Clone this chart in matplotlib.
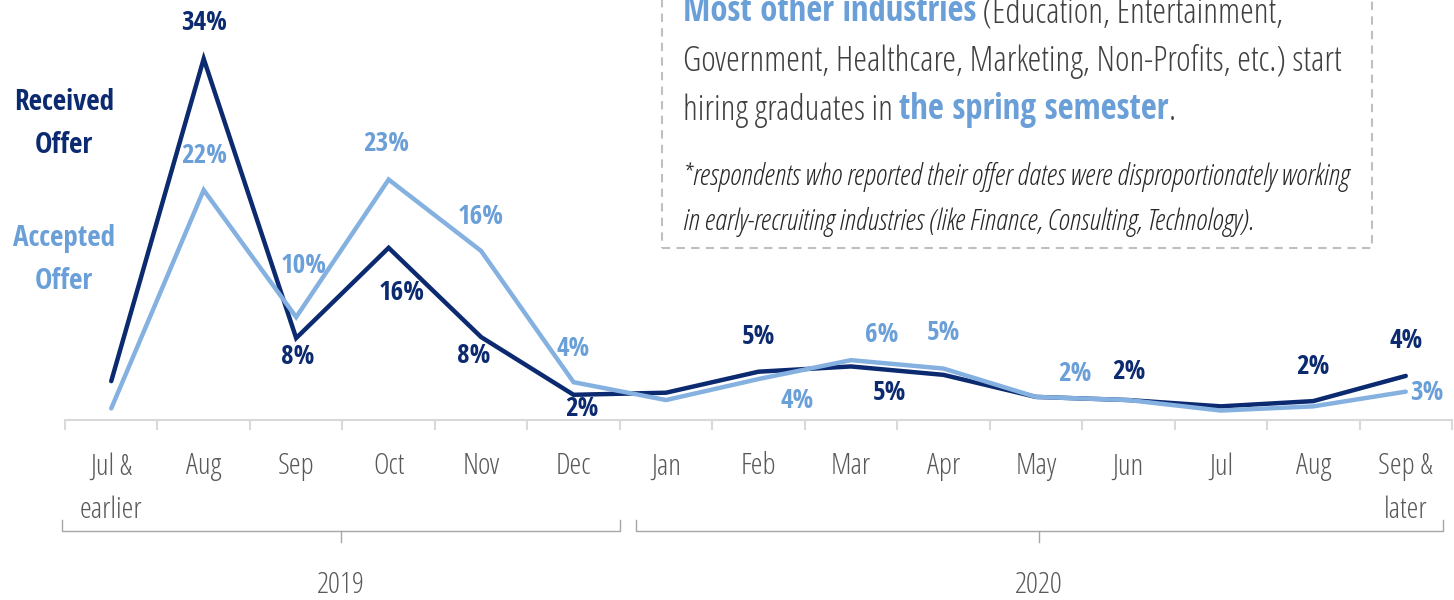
import matplotlib
matplotlib.use('Agg')
import matplotlib.pyplot as plt
from matplotlib import font_manager as fm
from matplotlib.patches import Rectangle
from matplotlib.lines import Line2D

# Dados (percentuais)
categories = ['Jul &\nearlier', 'Aug', 'Sep', 'Oct', 'Nov', 'Dec', 'Jan', 'Feb',
              'Mar', 'Apr', 'May', 'Jun', 'Jul', 'Aug', 'Sep &\nlater']
received = [3.7, 34.4, 7.8, 16.4, 7.9, 2.4, 2.6, 4.6, 5.1, 4.3, 2.2, 1.9, 1.3, 1.8, 4.2]
accepted = [1.1, 21.9, 9.8, 22.9, 16.1, 3.6, 1.9, 3.9, 5.7, 4.9, 2.2, 1.9, 0.9, 1.3, 2.7]
years = ['2019', '2020']
year_groups = [(0, 5), (6, 14)]

# posicao dos rotulos (dx, dy em pixels), None = sem rotulo
rec_lbl = [None, (0, 36), (2, -18), (13, -45), (-7, -18), (8, -14), None, (0, 35),
           (38, -26), None, None, (0, 29), None, (0, 35), (0, 35)]
acc_lbl = [None, (0, 35), (8, 52), (-2, 36), (0, 34), (0, 34), None, (39, -21),
           (31, 26), (0, 36), (39, 23), None, None, None, (21, -1)]

NAVY = '#0B2A6F'
LIGHT = '#85B1E1'
LIGHT_TXT = '#6A9FD8'
GRAY = '#595959'


# procurar arquivos de fonte estreita (condensed)
def achar_fonte(bold, italic):
    for cand in ['Open Sans', 'Open Sans Condensed', 'Noto Sans', 'Roboto Condensed',
                 'Roboto', 'DejaVu Sans', 'Liberation Sans Narrow']:
        for f in fm.fontManager.ttflist:
            w = f.weight if isinstance(f.weight, int) else fm.weight_dict.get(f.weight, 400)
            narrow = 'condensed' in str(f.stretch) or 'Narrow' in f.name or 'Condensed' in f.name
            if f.name == cand and narrow and (w >= 600) == bold and (f.style != 'normal') == italic:
                return f.fname
    return None


f_light = achar_fonte(False, False)
f_ital = achar_fonte(False, True)
f_bold = achar_fonte(True, False)
fp_light = fm.FontProperties(fname=f_light) if f_light else fm.FontProperties(family='DejaVu Sans')
fp_ital = fm.FontProperties(fname=f_ital) if f_ital else fm.FontProperties(family='DejaVu Sans', style='italic')
fp_bold = fm.FontProperties(fname=f_bold) if f_bold else fm.FontProperties(family='Open Sans', weight='bold')


def fp(base, size):
    p = base.copy()
    p.set_size(size)
    return p


W, H = 1454, 600
fig = plt.figure(figsize=(W / 100, H / 100), dpi=100)
ax = fig.add_axes([65 / W, 1 - 420 / H, (1452 - 65) / W, 420 / H])

x = list(range(len(categories)))
ax.plot(x, accepted, color=LIGHT, lw=3.2, solid_capstyle='round', solid_joinstyle='miter', clip_on=False, zorder=3)
ax.plot(x, received, color=NAVY, lw=3.2, solid_capstyle='round', solid_joinstyle='miter', clip_on=False, zorder=2)

for vals, offs, col in [(received, rec_lbl, NAVY), (accepted, acc_lbl, LIGHT_TXT)]:
    for i, v in enumerate(vals):
        if offs[i] is None:
            continue
        ax.annotate(f'{v:.0f}%', (i, v), xytext=offs[i], textcoords='offset pixels',
                    ha='center', va='center', fontproperties=fp(fp_bold, 19.5), color=col,
                    annotation_clip=False)

ax.set_xlim(-0.5, len(categories) - 0.5)
ax.set_ylim(0, 40)
for s in ['top', 'left', 'right']:
    ax.spines[s].set_visible(False)
ax.spines['bottom'].set_color('#D9D9D9')
ax.spines['bottom'].set_linewidth(1.5)
ax.set_yticks([])
ax.set_xticks(x)
ax.set_xticklabels(categories, color=GRAY, fontproperties=fp(fp_light, 21.5), linespacing=1.62)
ax.set_xticks([i - 0.5 for i in range(len(categories) + 1)], minor=True)
ax.tick_params(axis='x', which='major', length=0, pad=23)
ax.tick_params(axis='x', which='minor', length=7.2, width=1.5, color='#D9D9D9')

# rotulos das series
fig.text(64 / W, 1 - 124 / H, 'Received\nOffer', ha='center', va='center',
         fontproperties=fp(fp_bold, 21), color=NAVY, linespacing=1.62)
fig.text(64 / W, 1 - 260 / H, 'Accepted\nOffer', ha='center', va='center',
         fontproperties=fp(fp_bold, 21), color=LIGHT_TXT, linespacing=1.62)

# chaves dos anos
bt = matplotlib.transforms.blended_transform_factory(ax.transData, fig.transFigure)
for yr, (i0, i1) in zip(years, year_groups):
    x0, x1 = i0 - 0.53 + (0.2 if i0 else 0), i1 + 0.5 - (0.1 if i0 else 0)
    xc = (x0 + x1) / 2
    y_top, y_mid, y_bot = 1 - 520 / H, 1 - 531 / H, 1 - 542 / H
    fig.add_artist(Line2D([x0, x0, x1, x1], [y_top, y_mid, y_mid, y_top], transform=bt,
                          color='#A6A6A6', lw=1))
    fig.add_artist(Line2D([xc, xc], [y_mid, y_bot], transform=bt, color='#A6A6A6', lw=1))
    fig.text(xc, 1 - 585 / H, yr, transform=bt, ha='center', va='center',
             fontproperties=fp(fp_light, 21.5), color=GRAY)

# caixa de texto
fig.add_artist(Rectangle((662 / W, 1 - 248 / H), (1372 - 662) / W, 260 / H,
                         transform=fig.transFigure, fill=False, ec='#BFBFBF', lw=1.5,
                         ls=(0, (4, 3)), clip_on=False))

box_lines = [
    (21, [('Most other industries', LIGHT_TXT, fp_bold), (' (Education, Entertainment,', '#404040', fp_light)]),
    (71, [('Government, Healthcare, Marketing, Non-Profits, etc.) start', '#404040', fp_light)]),
    (120, [('hiring graduates in ', '#404040', fp_light), ('the spring semester', LIGHT_TXT, fp_bold),
           ('.', '#404040', fp_light)]),
]
for yy, parts in box_lines:
    prev = None
    for txt, col, base in parts:
        if prev is None:
            prev = fig.text(683 / W, 1 - yy / H, txt, ha='left', va='baseline',
                            fontproperties=fp(base, 25), color=col)
        else:
            prev = ax.annotate(txt, xy=(1, 0), xycoords=prev, ha='left', va='bottom',
                               fontproperties=fp(base, 25), color=col, annotation_clip=False)

fig.text(683 / W, 1 - 185 / H, '*respondents who reported their offer dates were disproportionately working',
         ha='left', va='baseline', fontproperties=fp(fp_ital, 21.2), color='#262626')
fig.text(683 / W, 1 - 230 / H, 'in early-recruiting industries (like Finance, Consulting, Technology).',
         ha='left', va='baseline', fontproperties=fp(fp_ital, 21.2), color='#262626')

fig.savefig('out.png', dpi=100)
